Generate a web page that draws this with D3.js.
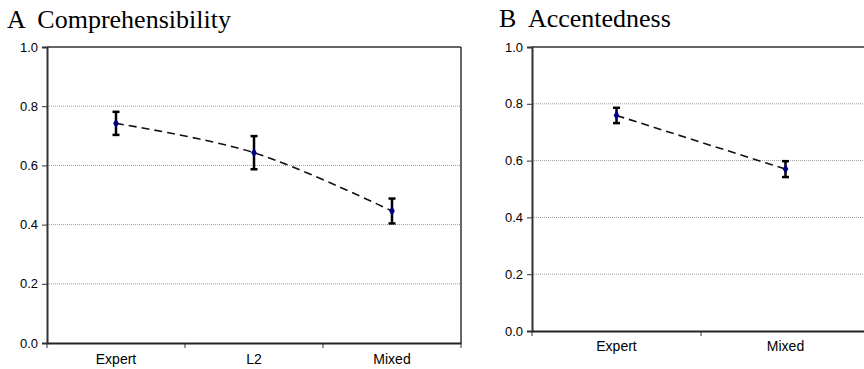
<!DOCTYPE html>
<html><head><meta charset="utf-8">
<script src="https://cdn.jsdelivr.net/npm/d3@7"></script>
<style>html,body{margin:0;padding:0;background:#fff;overflow:hidden}</style>
</head><body>
<svg id="c" width="864" height="369"></svg>
<script>
const titleA = "A  Comprehensibility";
const catsA = ["Expert", "L2", "Mixed"];
const meansA = [0.742, 0.643, 0.446];
const errA = [0.039, 0.056, 0.042];

const titleB = "B  Accentedness";
const catsB = ["Expert", "Mixed"];
const meansB = [0.759, 0.570];
const errB = [0.027, 0.028];

const yTicks = [0.0, 0.2, 0.4, 0.6, 0.8, 1.0];

const svg = d3.select("#c");

function panel(cfg) {
  const g = svg.append("g");
  const x = d3.scaleBand().domain(cfg.cats).range([cfg.left, cfg.right]);
  const y = d3.scaleLinear().domain([0, 1]).range([cfg.bottom, cfg.top]);

  // title
  g.append("text").attr("x", cfg.titleX).attr("y", cfg.titleY)
    .attr("font-family", "Liberation Serif, Times New Roman, serif")
    .attr("font-size", 26).attr("fill", "#000")
    .attr("xml:space", "preserve").style("white-space", "pre")
    .text(cfg.title);

  // gridlines
  g.selectAll(".grid").data(yTicks.filter(d => d > 0 && d < 1)).enter()
    .append("line")
    .attr("x1", cfg.left).attr("x2", cfg.right)
    .attr("y1", d => y(d)).attr("y2", d => y(d))
    .attr("stroke", "#9a9a9a").attr("stroke-width", 1)
    .attr("stroke-dasharray", "1,1");

  // frame top & right
  g.append("line").attr("x1", cfg.left).attr("x2", cfg.right)
    .attr("y1", y(1)).attr("y2", y(1))
    .attr("stroke", "#333").attr("stroke-width", 1.5);
  g.append("line").attr("x1", cfg.right).attr("x2", cfg.right)
    .attr("y1", y(1)).attr("y2", y(0))
    .attr("stroke", "#333").attr("stroke-width", 1.5);

  // y axis
  const ya = d3.axisLeft(y).tickValues(yTicks).tickFormat(d3.format(".1f")).tickSize(5).tickPadding(4);
  const yg = g.append("g").attr("transform", `translate(${cfg.left},0)`).call(ya);
  yg.select(".domain").attr("stroke", "#333").attr("stroke-width", 2);
  yg.selectAll(".tick line").attr("stroke", "#333").attr("stroke-width", 1);
  yg.selectAll(".tick text").attr("font-family", "Liberation Sans, Arial, sans-serif")
    .attr("font-size", 13).attr("fill", "#000");

  // x axis
  const xa = d3.axisBottom(x).tickSize(0).tickPadding(cfg.xPad);
  const xg = g.append("g").attr("transform", `translate(0,${cfg.bottom})`).call(xa);
  xg.select(".domain").attr("stroke", "#222").attr("stroke-width", 2);
  xg.selectAll(".tick text").attr("font-family", "Liberation Sans, Arial, sans-serif")
    .attr("font-size", 14).attr("fill", "#000");
  // category boundary ticks
  const bounds = cfg.cats.map(c => x(c)).concat([cfg.right]);
  g.selectAll(".xb").data(bounds).enter().append("line")
    .attr("x1", d => d).attr("x2", d => d)
    .attr("y1", cfg.bottom).attr("y2", cfg.bottom + 5)
    .attr("stroke", "#333").attr("stroke-width", 1);

  const pts = cfg.cats.map((c, i) => [x(c) + x.bandwidth() / 2, y(cfg.means[i])]);

  // dashed smoothed line
  g.append("path").attr("d", d3.line().curve(d3.curveCatmullRom.alpha(0.5))(pts))
    .attr("fill", "none").attr("stroke", "#111").attr("stroke-width", 1.6)
    .attr("stroke-dasharray", "8,5");

  // error bars
  cfg.cats.forEach((c, i) => {
    const cx = x(c) + x.bandwidth() / 2;
    const hi = y(cfg.means[i] + cfg.err[i]);
    const lo = y(cfg.means[i] - cfg.err[i]);
    g.append("line").attr("x1", cx).attr("x2", cx).attr("y1", hi).attr("y2", lo)
      .attr("stroke", "#000").attr("stroke-width", 2.5);
    [hi, lo].forEach(yy => g.append("line").attr("x1", cx - 3.5).attr("x2", cx + 3.5)
      .attr("y1", yy).attr("y2", yy).attr("stroke", "#000").attr("stroke-width", 2.5));
  });

  // markers
  g.selectAll(".pt").data(pts).enter().append("path")
    .attr("d", d3.symbol().type(d3.symbolDiamond).size(28))
    .attr("transform", d => `translate(${d[0]},${d[1]})`)
    .attr("fill", "#000080");
}

panel({ title: titleA, titleX: 7, titleY: 28, cats: catsA, means: meansA, err: errA,
  left: 47, right: 461, top: 47, bottom: 343, xPad: 11 });
panel({ title: titleB, titleX: 499, titleY: 27, cats: catsB, means: meansB, err: errB,
  left: 532, right: 870, top: 47, bottom: 331, xPad: 10 });
</script>
</body></html>
